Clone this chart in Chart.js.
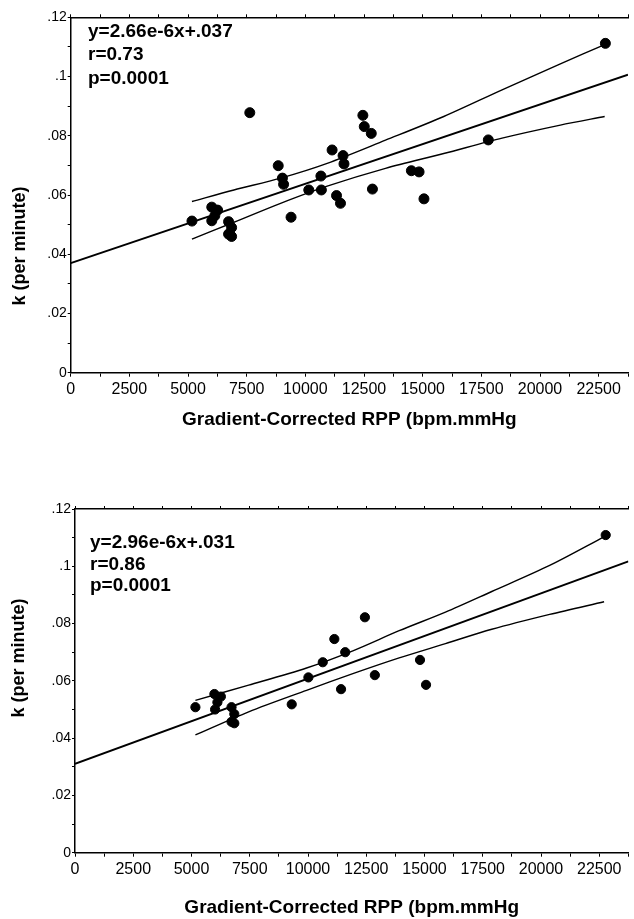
<!DOCTYPE html>
<html>
<head>
<meta charset="utf-8">
<script src="https://cdn.jsdelivr.net/npm/chart.js@4.4.0/dist/chart.umd.min.js"></script>
<style>
  html, body { margin: 0; padding: 0; background: #fff; }
  .panel { position: absolute; left: 0; width: 634px; }
  #topPanel { top: 0; height: 460px; }
  #bottomPanel { top: 460px; height: 459px; }
</style>
</head>
<body>
<div class="panel" id="topPanel"><canvas id="topChart" width="634" height="460"></canvas></div>
<div class="panel" id="bottomPanel"><canvas id="bottomChart" width="634" height="459"></canvas></div>
<script>
// x tick labels (every 2500) and y tick labels (every .02)
const xTickLabels = ['0', '2500', '5000', '7500', '10000', '12500', '15000', '17500', '20000', '22500'];
const yTickLabels = ['0', '.02', '.04', '.06', '.08', '.1', '.12'];
const xTitle = 'Gradient-Corrected RPP (bpm.mmHg';
const yTitle = 'k (per minute)';

// top panel - all subjects
const topX = [5200, 6050, 6300, 6180, 6050, 6770, 6900, 6770, 6900, 7680, 8900, 9080, 9130, 9450, 10210, 10730,
  10750, 11210, 11400, 11570, 11680, 11720, 12530, 12590, 12890, 12940, 14610, 14940, 15150, 17910, 22930];
const topY = [.0512, .0559, .0549, .0530, .0513, .0510, .0490, .0468, .0460, .0878, .0699, .0657, .0636, .0525, .0617, .0664,
  .0617, .0752, .0598, .0572, .0733, .0705, .0869, .0831, .0808, .0620, .0682, .0678, .0587, .0786, .1112];
const topFitX = [0, 23900];
const topFitY = [.0370, .1006];
const topBandX = [5200, 7000, 9000, 11000, 13500, 16000, 18500, 21000, 22900];
const topUpper = [.0578, .0617, .0657, .0707, .0785, .0865, .0955, .1043, .1108];
const topLower = [.0451, .0508, .0572, .0630, .0690, .0740, .0792, .0836, .0865];
const topStats = ['y=2.66e-6x+.037', 'r=0.73', 'p=0.0001'];

// bottom panel
const botX = [5200, 6020, 6300, 6150, 6050, 6760, 6880, 6760, 6880, 9360, 10080, 10700, 11200, 11670, 11490, 12520,
  12950, 14900, 15160, 22920];
const botY = [.0508, .0554, .0545, .0525, .0500, .0508, .0484, .0457, .0452, .0518, .0612, .0665, .0746, .0700, .0571, .0822,
  .0620, .0673, .0586, .1109];
const botFitX = [0, 23900];
const botFitY = [.0310, .1017];
const botBandX = [5200, 7500, 10000, 12000, 14000, 16000, 18000, 20500, 22850];
const botUpper = [.0532, .0585, .0645, .0705, .0775, .0840, .0912, .1003, .1103];
const botLower = [.0411, .0492, .0567, .0625, .0680, .0730, .0780, .0832, .0876];
const botStats = ['y=2.96e-6x+.031', 'r=0.86', 'p=0.0001'];

const FONT = '"Liberation Sans", Arial, Helvetica, sans-serif';

function pts(xs, ys) {
  return xs.map((x, i) => ({ x: x, y: ys[i] }));
}

// stats block and rotated y title, drawn on the canvas
const notesPlugin = {
  id: 'notes',
  afterDraw(chart, args, opts) {
    const ctx = chart.ctx;
    ctx.save();
    ctx.fillStyle = '#000';
    ctx.font = 'bold 19px ' + FONT;
    ctx.textBaseline = 'middle';
    ctx.textAlign = 'left';
    opts.lines.forEach((t, i) => ctx.fillText(t, opts.x, opts.y + i * opts.step));
    ctx.translate(opts.titleX, opts.titleY);
    ctx.rotate(-Math.PI / 2);
    ctx.textAlign = 'center';
    ctx.font = 'bold 18px ' + FONT;
    ctx.fillText(yTitle, 0, 0);
    ctx.restore();
  }
};

function makeChart(id, s) {
  const ctx = document.getElementById(id).getContext('2d');
  return new Chart(ctx, {
    type: 'scatter',
    data: {
      datasets: [
        {
          data: pts(s.x, s.y),
          backgroundColor: '#000',
          borderColor: '#000',
          pointRadius: s.radius,
          pointHoverRadius: s.radius
        },
        {
          type: 'line',
          data: pts(s.fitX, s.fitY),
          borderColor: '#000',
          borderWidth: 2,
          pointRadius: 0,
          fill: false
        },
        {
          type: 'line',
          data: pts(s.bandX, s.upper),
          borderColor: '#000',
          borderWidth: 1.4,
          pointRadius: 0,
          tension: 0.3,
          fill: false
        },
        {
          type: 'line',
          data: pts(s.bandX, s.lower),
          borderColor: '#000',
          borderWidth: 1.4,
          pointRadius: 0,
          tension: 0.3,
          fill: false
        }
      ]
    },
    options: {
      responsive: false,
      animation: false,
      layout: { padding: { top: s.padTop, left: 0, right: 0, bottom: 0 } },
      plugins: {
        legend: { display: false },
        tooltip: { enabled: false },
        notes: s.notes
      },
      scales: {
        x: {
          type: 'linear',
          position: 'bottom',
          min: 0,
          max: 23900,
          afterFit(scale) { scale.height = s.xAxisHeight; },
          border: { color: '#000', width: 1.5 },
          grid: { drawOnChartArea: false, color: '#000', tickLength: 4 },
          ticks: {
            stepSize: 1250,
            autoSkip: false,
            maxRotation: 0,
            padding: s.xTickPad,
            color: '#000',
            font: { family: FONT, size: 16 },
            callback(v) {
              const n = Math.round(v / 1250);
              return n % 2 ? '' : (xTickLabels[n / 2] || '');
            }
          },
          title: {
            display: true,
            text: xTitle,
            color: '#000',
            font: { family: FONT, size: 19, weight: 'bold' },
            padding: { top: 0, bottom: s.xTitlePad }
          }
        },
        x2: {
          type: 'linear',
          position: 'top',
          min: 0,
          max: 23900,
          afterFit(scale) { scale.height = 0; },
          border: { color: '#000', width: 1.5 },
          grid: { drawOnChartArea: false, color: '#000', tickLength: 3 },
          ticks: { display: false, stepSize: 1250 }
        },
        y: {
          type: 'linear',
          min: 0,
          max: 0.12,
          afterFit(scale) { scale.width = s.yAxisWidth; },
          border: { color: '#000', width: 1.5 },
          grid: { drawOnChartArea: false, color: '#000', tickLength: 3 },
          ticks: {
            stepSize: 0.01,
            autoSkip: false,
            padding: 1,
            color: '#000',
            font: { family: FONT, size: 14 },
            callback(v) {
              const n = Math.round(v * 100);
              return n % 2 ? '' : (yTickLabels[n / 2] || '');
            }
          }
        }
      }
    },
    plugins: [notesPlugin]
  });
}

makeChart('topChart', {
  x: topX, y: topY, fitX: topFitX, fitY: topFitY,
  bandX: topBandX, upper: topUpper, lower: topLower,
  radius: 5,
  padTop: 17.3, yAxisWidth: 70.7, xAxisHeight: 87.3, xTickPad: 3, xTitlePad: 28.6,
  notes: { lines: topStats, x: 88, y: 32, step: 23.2, titleX: 20, titleY: 246 }
});

makeChart('bottomChart', {
  x: botX, y: botY, fitX: botFitX, fitY: botFitY,
  bandX: botBandX, upper: botUpper, lower: botLower,
  radius: 4.6,
  padTop: 49, yAxisWidth: 75, xAxisHeight: 66.3, xTickPad: 3.5, xTitlePad: 0,
  notes: { lines: botStats, x: 90, y: 83, step: 21.5, titleX: 19, titleY: 198 }
});
</script>
</body>
</html>
